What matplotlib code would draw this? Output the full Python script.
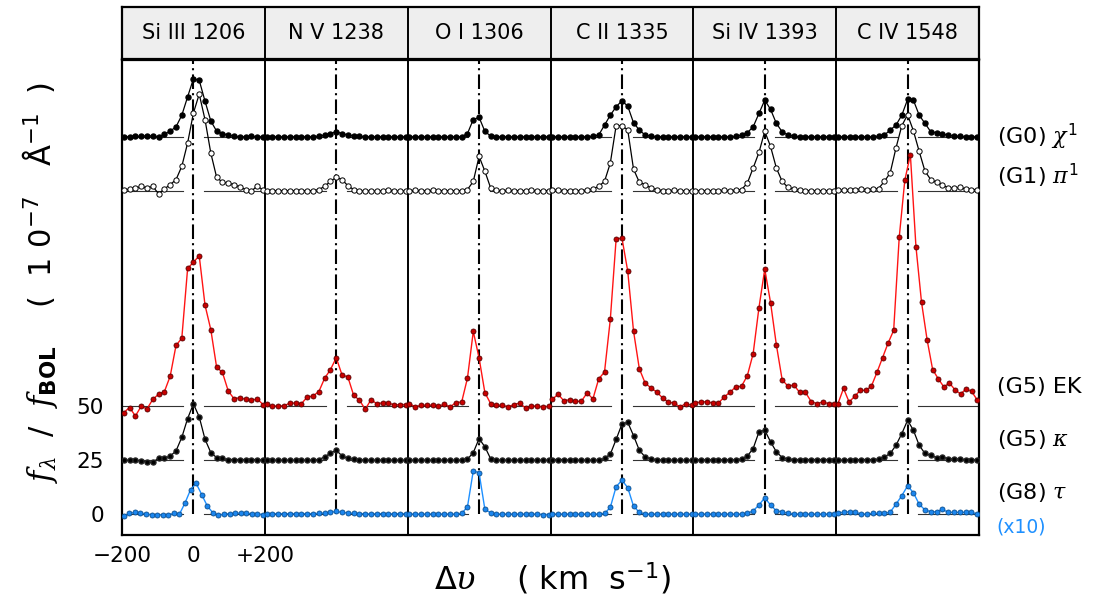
import matplotlib.pyplot as plt
import numpy as np

plt.rcParams['font.family'] = ['DejaVu Sans']
plt.rcParams['mathtext.fontset'] = 'custom'
plt.rcParams['mathtext.rm'] = 'DejaVu Sans'
plt.rcParams['mathtext.it'] = 'DejaVu Serif:italic'
plt.rcParams['mathtext.bf'] = 'DejaVu Sans:bold'

# emission lines (one panel each)
lines = ["Si III 1206", "N V 1238", "O I 1306", "C II 1335", "Si IV 1393", "C IV 1548"]

# line profiles, relative to each star's baseline
g0_chi1 = [
    [0, 0, 0.2, 0.2, 0.5, 0.3, 0, 1.1, 2.6, 4.6, 10.0, 18.5, 26.9, 26.2, 16.5, 7.3, 2.6, 1.5, 0.8, 0.3, 0, 0, 0.2, 0, 0],
    [0, 0, 0, 0, 0, 0, 0, 0, 0, 0.3, 0.8, 1.5, 2.3, 1.5, 0.8, 0.5, 0.3, 0, 0, 0, 0, 0, 0, 0, 0],
    [0, 0, 0, 0, 0, 0, 0, 0, 0, 0, 1.5, 8.0, 9.0, 2.5, 0.3, 0, 0, 0, 0, 0, 0, 0, 0, 0, 0],
    [0, 0, 0, 0, 0, 0, 0, 0.3, 0.8, 5.4, 10.0, 13.9, 16.7, 14.2, 6.5, 3.1, 0.8, 0.3, 0, 0, 0, 0, 0, 0, 0],
    [0, 0, 0, 0, 0, 0, 0, 0.2, 0.8, 1.9, 4.6, 10.8, 17.0, 12.7, 6.2, 2.3, 0.8, 0.3, 0, 0, 0, 0, 0, 0, 0],
    [0, 0, 0, 0, 0, 0, 0, 0.3, 0.8, 3.1, 5.4, 10.0, 17.3, 17.0, 10.0, 6.2, 2.3, 1.9, 1.2, 0.8, 0.3, 0.3, 0, 0, 0],
]
g1_pi1 = [
    [0.2, 0.8, 1.1, 2.0, 1.2, 2.0, -1.5, 0.8, 2.8, 5.1, 11.3, 22.1, 36.0, 44.8, 32.9, 17.4, 6.2, 3.9, 3.5, 2.8, 1.7, 0.5, -0.3, 2.3, 0.2],
    [0, 0, 0, 0, 0, 0, 0, 0, 0, 0.5, 2.0, 4.3, 6.2, 5.1, 2.3, 0.5, 0, -0.3, 0, -0.3, 0, 0.3, 0, -0.3, 0],
    [0, 0.2, 0, 0, 0.2, 0, 0, 0, 0, 0, 0.5, 4.3, 15.9, 9.0, 1.2, 0.2, 0, 0.2, 0, 0, 0, 0.2, 0, 0, 0],
    [0.3, 0.3, 0, 0, 0, 0, 0.3, 0.8, 2.0, 4.3, 12.8, 30.1, 30.1, 28.2, 10.0, 3.9, 2.8, 1.2, 0.5, 0, 0, 0.2, 0, 0, 0],
    [0, 0, 0, 0, 0, 0.2, 0, 0.3, 0.5, 3.5, 10.5, 17.7, 27.5, 20.5, 10.5, 4.3, 1.5, 0.8, 0.3, 0, 0, 0, 0, 0, 0],
    [0.2, 0.3, 0.3, 0.5, 0.8, 0.5, 0.8, 1.0, 4.3, 8.2, 19.8, 30.1, 35.2, 27.8, 18.2, 9.0, 5.1, 3.9, 2.8, 1.2, 1.2, 1.5, 0.8, 0.5, 0.5],
]
g5_ek = [
    [-2.9, -0.6, -4.5, 0, -1.2, 3.2, 5.6, 6.8, 14.0, 28.2, 31.6, 63.9, 66.8, 69.8, 46.9, 35.5, 18.1, 15.7, 7.1, 3.5, 4.0, 3.2, 2.8, 3.4, 0.8],
    [0.9, 0, 0.2, 0.2, 1.5, 1.5, 1.2, 4.3, 4.8, 6.8, 13.0, 17.0, 22.5, 14.5, 13.6, 5.1, 2.8, -1.4, 3.1, 1.1, 1.7, 1.5, 0.6, 0.8, 0.8],
    [1.2, -0.3, 0.5, 0.5, 0.5, 0, 0.9, -0.3, 1.7, 2.0, 13.1, 34.7, 22.4, 6.3, 1.2, 0.5, 0.5, -0.3, 0.8, 1.5, -0.8, 0.2, 0, -0.3, 0],
    [3.2, 5.6, 2.5, 3.1, 2.3, 2.3, 6.2, 3.4, 12.7, 15.9, 40.3, 77.5, 78.1, 62.7, 34.9, 17.4, 10.8, 8.5, 6.6, 3.9, 1.9, 1.5, -0.3, 1.2, 0.5],
    [1.7, 1.9, 2.2, 1.5, 1.4, 4.3, 6.5, 9.0, 9.3, 14.2, 24.4, 45.7, 63.6, 48.1, 28.5, 12.3, 9.3, 9.9, 6.5, 6.5, 2.2, 1.2, 2.0, 1.2, 1.2],
    [1.2, 8.3, 2.0, 4.6, 7.4, 7.4, 9.3, 15.7, 22.5, 29.3, 35.2, 78.4, 104.8, 116.7, 74.1, 48.3, 30.9, 17.0, 12.8, 9.0, 10.8, 7.7, 5.7, 8.0, 6.9, 2.9],
]
g5_kappa = [
    [0, 0, 0, -0.3, -0.9, -0.9, 0.9, 0.9, 1.9, 4.3, 10.6, 19.3, 26.1, 20.1, 9.7, 3.5, 1.2, 0.8, 0.3, 0.3, 0.3, 0.3, 0.3, 0.3, 0],
    [0, 0, 0, 0, 0, 0, 0, 0, 0, 0.3, 1.5, 3.2, 4.6, 2.0, 0.8, 0.5, 0.3, 0, 0, 0, 0, 0, 0, 0, 0],
    [0, 0, 0, 0, 0, 0, 0, 0, 0, 0, 0.5, 3.5, 10.0, 6.2, 0.6, 0, 0, 0, 0, 0, 0, 0, 0, 0, 0],
    [0.3, 0.3, 0.3, 0, 0, 0, 0, 0, 0, 0.8, 2.8, 9.6, 16.7, 17.6, 11.4, 4.6, 1.5, 0.6, 0.3, 0, 0, 0, 0, 0, 0],
    [0.2, 0.2, 0.2, 0.2, 0.2, 0.2, 0.2, 0.2, 0.6, 1.9, 5.4, 13.1, 13.9, 8.5, 3.9, 1.2, 0.6, 0.3, 0.3, 0.3, 0.3, 0.3, 0.3, 0.3, 0.3],
    [0, 0, 0.3, 0.2, 0.3, 0.3, 0.3, 0.5, 1.5, 3.1, 6.9, 12.3, 18.5, 13.9, 6.9, 3.1, 2.2, 1.2, 1.5, 0.6, 0.6, 0.6, 0.3, 0.3, 0],
]
g8_tau = [  # already multiplied by 10
    [-1.1, 0.3, 0.8, 0.6, 0, -0.3, -0.3, -0.3, -0.3, 0.3, 0, 5.2, 11.4, 14.2, 9.0, 3.7, 0.6, -0.6, 0, 0.2, 0.3, 0.5, 0.3, 0.2, 0, -0.2],
    [0.2, 0.2, 0.2, 0.2, 0.2, 0.2, 0.2, 0.2, 0.2, 0.3, 0.5, 0.8, 1.2, 0.8, 0.5, 0.3, 0.2, 0.2, 0, 0.2, 0.2, 0, 0.2, 0.2, 0.2],
    [0, 0, 0, 0, 0, 0, 0, 0, 0, 0.3, 3.4, 20.1, 19.1, 2.2, 0.6, 0, 0, 0, 0, 0, 0, 0, 0, -0.2, -0.2],
    [0, 0, 0, 0, 0, 0, 0, 0, 0, 0.3, 3.1, 12.7, 15.7, 12.3, 3.7, 0.8, 0, 0, 0, 0, 0, 0, 0, 0, 0],
    [0, 0, 0, 0, 0, 0, 0, 0, 0, 0.3, 1.5, 4.2, 7.6, 4.2, 1.5, 1.1, 0.3, 0, 0, 0, 0, 0, 0, 0, 0],
    [0.6, 0.8, 1.1, 0.8, 0, 0, 0.3, 0.3, 0.3, 0.9, 4.6, 8.5, 13.1, 9.9, 4.6, 1.9, 1.1, 1.1, 2.2, 0.8, 0.8, 0.8, 0.8, 0.8, 0],
]

# vertical offsets of the stacked spectra
offsets = [175, 150, 50, 25, 0]
star_labels = [r"(G0) $\chi^1$", r"(G1) $\pi^1$", "(G5) EK", r"(G5) $\kappa$", r"(G8) $\tau$"]
label_y = [175, 157, 59, 34.5, 10]

W = 400  # km/s per panel

fig = plt.figure(figsize=(10.93, 6.05), dpi=100)
ax = fig.add_axes([122 / 1093, 70 / 605, 857 / 1093, 475 / 605])
hax = fig.add_axes([122 / 1093, 546 / 605, 857 / 1093, 52 / 605])

ax.set_xlim(0, W * len(lines))
ax.set_ylim(-9.7, 210.6)

# baselines with a gap around line centre, and the dash-dot line centre
for k in range(len(lines)):
    c = k * W + W / 2
    for off in offsets:
        ax.plot([c - 200, c - 30], [off, off], color="#333333", lw=0.8, zorder=1)
        ax.plot([c + 30, c + 200], [off, off], color="#333333", lw=0.8, zorder=1)
    ax.plot([c, c], [0, 210.6], color="black", lw=1.5, ls=(0, (7, 2, 1, 2)), zorder=2)
    if k > 0:
        ax.axvline(k * W, color="black", lw=1.4, zorder=2)

styles = [
    dict(color="black", lw=0.9, marker="o", ms=3.6, mfc="black", mec="black"),
    dict(color="black", lw=0.9, marker="o", ms=3.8, mfc="white", mec="black", mew=0.7),
    dict(color="#ff1414", lw=1.0, marker="o", ms=3.6, mfc="#c80000", mec="#5a0000", mew=0.6),
    dict(color="black", lw=0.9, marker="o", ms=3.6, mfc="black", mec="#222222"),
    dict(color="#1e90ff", lw=1.0, marker="o", ms=3.6, mfc="#1c86ee", mec="#0b4f8f", mew=0.6),
]

for series, off, st in zip([g0_chi1, g1_pi1, g5_ek, g5_kappa, g8_tau], offsets, styles):
    for k, vals in enumerate(series):
        v = np.linspace(-195, 195, len(vals))
        ax.plot(k * W + W / 2 + v, np.array(vals) + off, zorder=3, **st)

for spine in ax.spines.values():
    spine.set_linewidth(1.6)

ax.set_xticks([0, 200, 400])
ax.set_xticklabels(["\u2212200", "0", "+200"], fontsize=15.5)
ax.set_yticks([0, 25, 50])
ax.set_yticklabels(["0", "25", "50"], fontsize=15.5)
ax.tick_params(length=0)
ax.tick_params(axis="x", pad=8)
ax.tick_params(axis="y", pad=13)

for lab, y in zip(star_labels, label_y):
    ax.text(2450, y, lab, fontsize=16, va="center", ha="left", clip_on=False)
ax.text(2450, -6, "(x10)", fontsize=13.5, color="#1e90ff", va="center", ha="left", clip_on=False)

fig.text(40 / 1093, 1 - 282 / 605,
         r"$f_{\lambda}$  /  $f_{\mathbf{BOL}}$    (  1 0$^{-7}$   Å$^{-1}$  )",
         fontsize=22, rotation=90, ha="center", va="center")
fig.text(553 / 1093, 1 - 578 / 605, r"$\Delta\upsilon$    ( km  s$^{-1}$)",
         fontsize=23, ha="center", va="center")

# header boxes with the line names
hax.set_xlim(0, W * len(lines))
hax.set_ylim(0, 1)
hax.set_facecolor("#eeeeee")
hax.set_xticks([])
hax.set_yticks([])
for spine in hax.spines.values():
    spine.set_linewidth(1.6)
for k, name in enumerate(lines):
    if k > 0:
        hax.axvline(k * W, color="black", lw=1.4)
    hax.text(k * W + W / 2, 0.5, name, fontsize=15, ha="center", va="center")

fig.savefig("out.png", dpi=100)
